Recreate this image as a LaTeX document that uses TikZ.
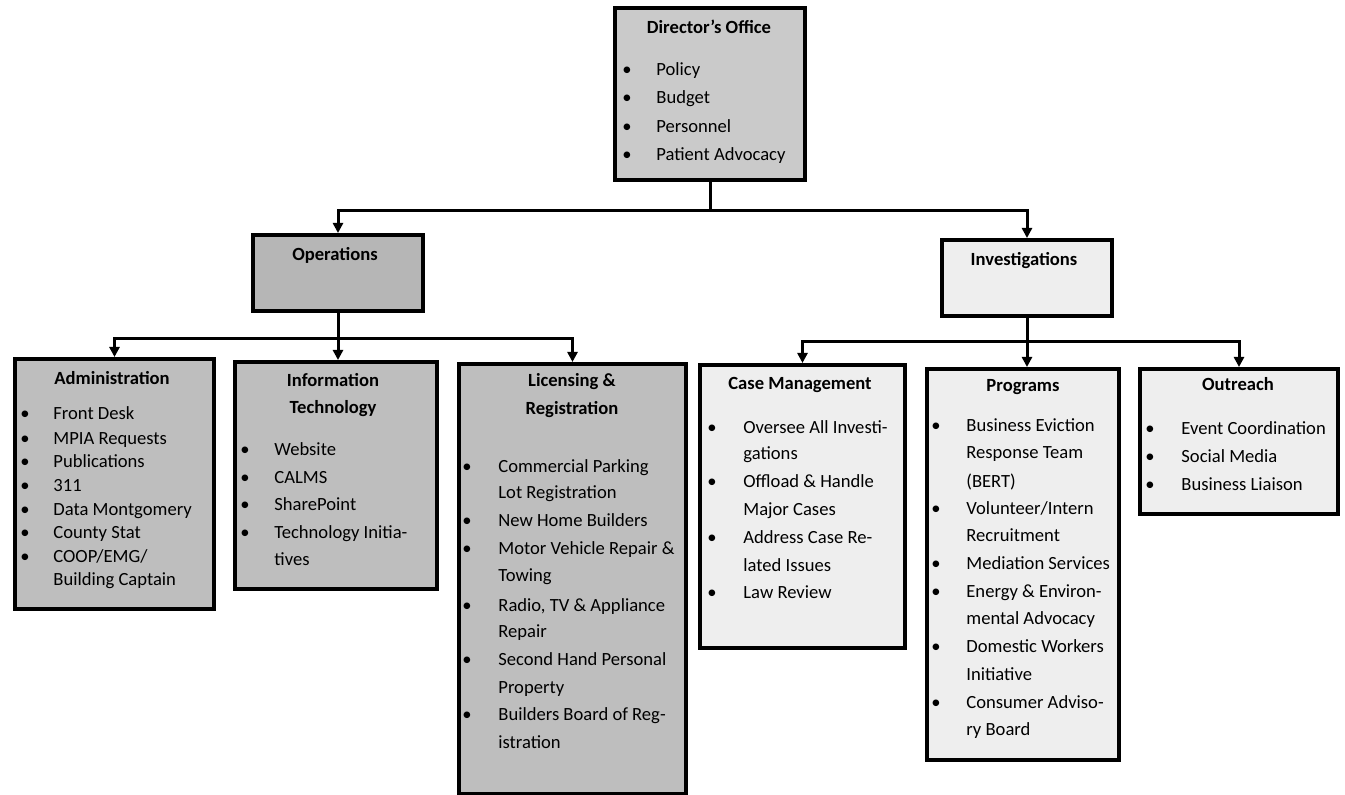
\documentclass[tikz,border=0pt]{standalone}
\usepackage{fontspec}
\setmainfont{Carlito}
\usetikzlibrary{arrows.meta}
\definecolor{gdir}{HTML}{CACACA}
\definecolor{gops}{HTML}{B6B6B6}
\definecolor{gsub}{HTML}{BEBEBE}
\definecolor{glight}{HTML}{EEEEEE}
\begin{document}
\begin{tikzpicture}[x=0.5pt,y=-0.5pt,
  box/.style={draw=black, line width=2pt, inner sep=0pt, anchor=north west},
  ttl/.style={font=\fontsize{9.3}{11}\selectfont\bfseries, inner sep=0pt, anchor=base},
  itm/.style={font=\fontsize{9.3}{11}\selectfont, inner sep=0pt, anchor=base west},
  bul/.style={font=\fontsize{9.3}{11}\selectfont, inner sep=0pt, anchor=base},
  arr/.style={line width=1.5pt, -{Triangle[length=5pt,width=5pt]}},
  ln/.style={line width=1.5pt}]
\useasboundingbox[fill=white] (0,0) rectangle (1345,795);

% boxes
\node[box, fill=gdir, minimum width=95pt, minimum height=86pt] (dir) at (613,6) {};
\node[box, fill=gops, minimum width=85pt, minimum height=38pt] (ops) at (251,233) {};
\node[box, fill=glight, minimum width=85pt, minimum height=38pt] (inv) at (940,238) {};
\node[box, fill=gsub, minimum width=99.5pt, minimum height=125pt] (adm) at (13,357) {};
\node[box, fill=gsub, minimum width=101pt, minimum height=113.5pt] (it) at (233,360) {};
\node[box, fill=gsub, minimum width=113.5pt, minimum height=215pt] (lr) at (457,362) {};
\node[box, fill=glight, minimum width=102.5pt, minimum height=141.5pt] (cm) at (698,363) {};
\node[box, fill=glight, minimum width=96pt, minimum height=195.5pt] (prg) at (925,367) {};
\node[box, fill=glight, minimum width=99pt, minimum height=72.5pt] (out) at (1138,367) {};

% connectors
\draw[arr] (dir.south) -- ++(0,29) -| (ops.north);
\draw[arr] (dir.south) -- ++(0,29) -| (inv.north);
\draw[arr] (ops.south) -- ++(0,26) -| (adm.north);
\draw[arr] (ops.south) -- (ops.south |- it.north);
\draw[arr] (ops.south) -- ++(0,26) -| (lr.north);
\draw[arr] (inv.south) -- ++(0,24) -| (cm.north);
\draw[arr] (inv.south) -- (inv.south |- prg.north);
\draw[arr] (inv.south) -- ++(0,24) -| (out.north);

% Director's Office
\node[ttl] (dirt) at (709,34) {Director’s Office};
\node[bul] (dirb1) at (627,76) {•}; \node[itm] (diri1) at (656,76) {Policy};
\node[bul] (dirb2) at (627,104) {•}; \node[itm] (diri2) at (656,104) {Budget};
\node[bul] (dirb3) at (627,133) {•}; \node[itm] (diri3) at (656,133) {Personnel};
\node[bul] (dirb4) at (627,161) {•}; \node[itm] (diri4) at (656,161) {Patient Advocacy};

% Operations / Investigations
\node[ttl] (opst) at (335,261) {Operations};
\node[ttl] (invt) at (1024,266) {Investigations};

% Administration
\node[ttl] (admt) at (112,385) {Administration};
\node[bul] (admb1) at (25,420) {•}; \node[itm] (admi1) at (53,420) {Front Desk};
\node[bul] (admb2) at (25,445) {•}; \node[itm] (admi2) at (53,445) {MPIA Requests};
\node[bul] (admb3) at (25,468) {•}; \node[itm] (admi3) at (53,468) {Publications};
\node[bul] (admb4) at (25,492) {•}; \node[itm] (admi4) at (53,492) {311};
\node[bul] (admb5) at (25,516) {•}; \node[itm] (admi5) at (53,516) {Data Montgomery};
\node[bul] (admb6) at (25,539) {•}; \node[itm] (admi6) at (53,539) {County Stat};
\node[bul] (admb7) at (25,563) {•}; \node[itm] (admi7) at (53,563) {COOP/EMG/};
\node[itm] (admi8) at (53,586) {Building Captain};

% Information Technology
\node[ttl] (itt1) at (333,387) {Information};
\node[ttl] (itt2) at (333,414) {Technology};
\node[bul] (itb1) at (245,456) {•}; \node[itm] (iti1) at (274,456) {Website};
\node[bul] (itb2) at (245,484) {•}; \node[itm] (iti2) at (274,484) {CALMS};
\node[bul] (itb3) at (245,511) {•}; \node[itm] (iti3) at (274,511) {SharePoint};
\node[bul] (itb4) at (245,539) {•}; \node[itm] (iti4) at (274,539) {Technology Initia-};
\node[itm] (iti5) at (274,566) {tives};

% Licensing & Registration
\node[ttl] (lrt1) at (572,387) {Licensing \&};
\node[ttl] (lrt2) at (572,415) {Registration};
\node[bul] (lrb1) at (467,473) {•}; \node[itm] (lri1) at (498,473) {Commercial Parking};
\node[itm] (lri2) at (498,499) {Lot Registration};
\node[bul] (lrb3) at (467,527) {•}; \node[itm] (lri3) at (498,527) {New Home Builders};
\node[bul] (lrb4) at (467,555) {•}; \node[itm] (lri4) at (498,555) {Motor Vehicle Repair \&};
\node[itm] (lri5) at (498,582) {Towing};
\node[bul] (lrb6) at (467,612) {•}; \node[itm] (lri6) at (498,612) {Radio, TV \& Appliance};
\node[itm] (lri7) at (498,638) {Repair};
\node[bul] (lrb8) at (467,666) {•}; \node[itm] (lri8) at (498,666) {Second Hand Personal};
\node[itm] (lri9) at (498,694) {Property};
\node[bul] (lrb10) at (467,721) {•}; \node[itm] (lri10) at (498,721) {Builders Board of Reg-};
\node[itm] (lri11) at (498,749) {istration};

% Case Management
\node[ttl] (cmt) at (800,390) {Case Management};
\node[bul] (cmb1) at (712,434) {•}; \node[itm] (cmi1) at (743,434) {Oversee All Investi-};
\node[itm] (cmi2) at (743,460) {gations};
\node[bul] (cmb3) at (712,488) {•}; \node[itm] (cmi3) at (743,488) {Offload \& Handle};
\node[itm] (cmi4) at (743,516) {Major Cases};
\node[bul] (cmb5) at (712,544) {•}; \node[itm] (cmi5) at (743,544) {Address Case Re-};
\node[itm] (cmi6) at (743,572) {lated Issues};
\node[bul] (cmb7) at (712,599) {•}; \node[itm] (cmi7) at (743,599) {Law Review};

% Programs
\node[ttl] (prgt) at (1023,392) {Programs};
\node[bul] (prb1) at (936,432) {•}; \node[itm] (pri1) at (966,432) {Business Eviction};
\node[itm] (pri2) at (966,459) {Response Team};
\node[itm] (pri3) at (966,488) {(BERT)};
\node[bul] (prb4) at (936,515) {•}; \node[itm] (pri4) at (966,515) {Volunteer/Intern};
\node[itm] (pri5) at (966,542) {Recruitment};
\node[bul] (prb6) at (936,570) {•}; \node[itm] (pri6) at (966,570) {Mediation Services};
\node[bul] (prb7) at (936,598) {•}; \node[itm] (pri7) at (966,598) {Energy \& Environ-};
\node[itm] (pri8) at (966,625) {mental Advocacy};
\node[bul] (prb9) at (936,653) {•}; \node[itm] (pri9) at (966,653) {Domestic Workers};
\node[itm] (pri10) at (966,681) {Initiative};
\node[bul] (prb11) at (936,709) {•}; \node[itm] (pri11) at (966,709) {Consumer Adviso-};
\node[itm] (pri12) at (966,736) {ry Board};

% Outreach
\node[ttl] (outt) at (1238,391) {Outreach};
\node[bul] (oub1) at (1150,435) {•}; \node[itm] (oui1) at (1181,435) {Event Coordination};
\node[bul] (oub2) at (1150,463) {•}; \node[itm] (oui2) at (1181,463) {Social Media};
\node[bul] (oub3) at (1150,491) {•}; \node[itm] (oui3) at (1181,491) {Business Liaison};
\end{tikzpicture}
\end{document}
